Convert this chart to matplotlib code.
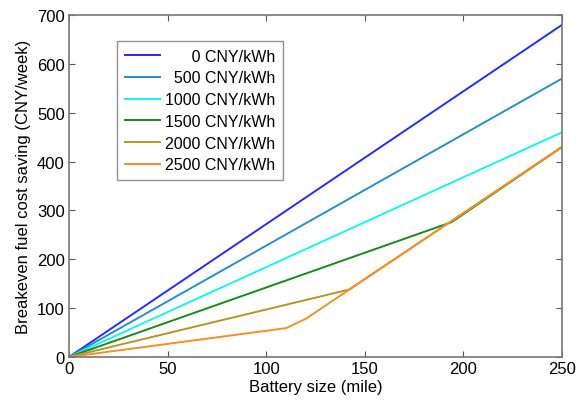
import numpy as np
import matplotlib.pyplot as plt

plt.rcParams['font.family'] = ['Liberation Sans', 'DejaVu Sans']

# battery prices (legend) and breakeven curves
labels = ['\u2007\u2007\u20070 CNY/kWh', '\u2007500 CNY/kWh', '1000 CNY/kWh',
          '1500 CNY/kWh', '2000 CNY/kWh', '2500 CNY/kWh']
colors = ['#2a2af0', '#2a8dc6', '#1af0f0', '#1a881a', '#b5952a', '#f0902a']

x_0 = [0, 250]
y_0 = [0, 680]
x_500 = [0, 250]
y_500 = [0, 570]
x_1000 = [0, 250]
y_1000 = [0, 460]
x_1500 = [0, 194, 250]
y_1500 = [0, 276, 430]
x_2000 = [0, 142, 250]
y_2000 = [0, 138, 430]
x_2500 = [0, 110, 120, 250]
y_2500 = [0, 59, 78, 430]

xs = [x_0, x_500, x_1000, x_1500, x_2000, x_2500]
ys = [y_0, y_500, y_1000, y_1500, y_2000, y_2500]

fig = plt.figure(figsize=(5.77, 4.02), dpi=100)
ax = fig.add_axes([0.1196, 0.1095, 0.8544, 0.8505])

for x, y, c, lab in zip(xs, ys, colors, labels):
    ax.plot(x, y, color=c, lw=1.4, label=lab)

ax.set_xlim(0, 250)
ax.set_ylim(0, 700)
ax.set_xticks(np.arange(0, 251, 50))
ax.set_yticks(np.arange(0, 701, 100))
ax.tick_params(direction='in', top=True, right=True, labelsize=12, length=4,
               color='#555555', pad=3)
for s in ax.spines.values():
    s.set_color('#777777')
    s.set_linewidth(1.2)

ax.set_xlabel('Battery size (mile)', fontsize=12, labelpad=2)
ax.set_ylabel('Breakeven fuel cost saving (CNY/week)', fontsize=12, labelpad=4)

leg = ax.legend(loc='upper left', bbox_to_anchor=(0.097, 0.925), fontsize=11.5,
                frameon=True, fancybox=False, edgecolor='#777777',
                handlelength=2.2, handletextpad=0.3, labelspacing=0.42,
                borderpad=0.5, borderaxespad=0)
leg.get_frame().set_linewidth(1.0)

fig.savefig('out.png', dpi=100)
